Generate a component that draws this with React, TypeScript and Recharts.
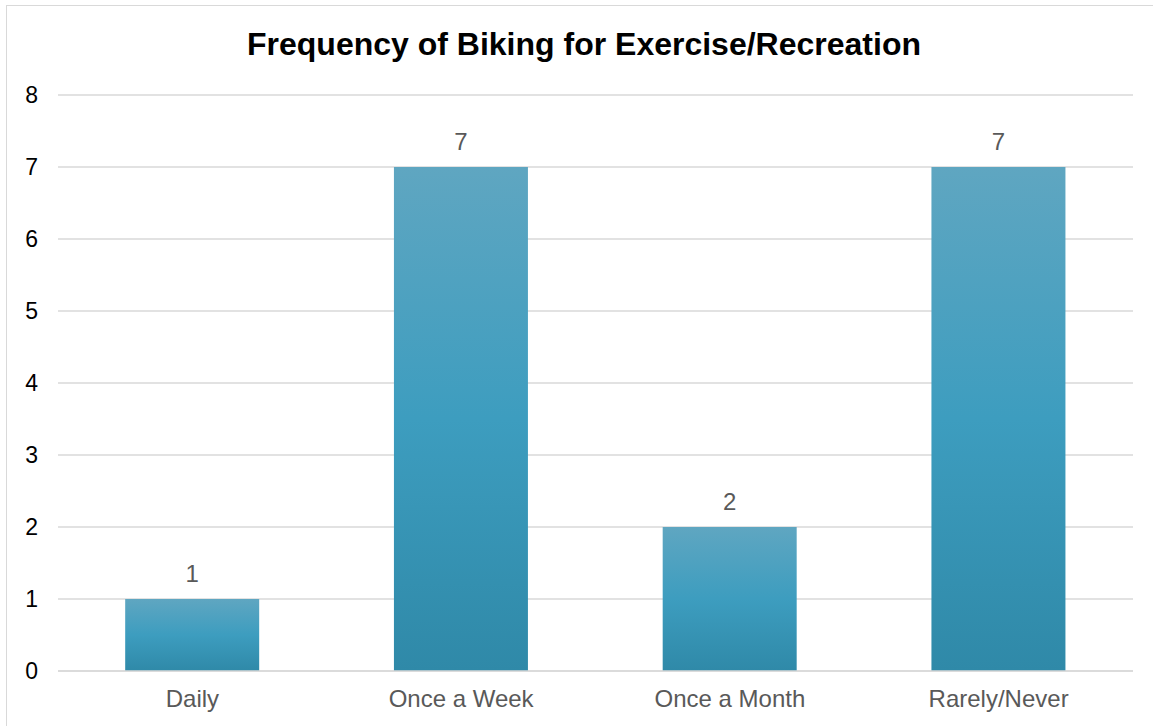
import React from "react";
import { BarChart, Bar, XAxis, YAxis, CartesianGrid, LabelList } from "recharts";

const categories = ["Daily", "Once a Week", "Once a Month", "Rarely/Never"];
const counts = [1, 7, 2, 7];
const yTicks = [0, 1, 2, 3, 4, 5, 6, 7, 8];

const data = categories.map((name, i) => ({ name, count: counts[i] }));

const FONT = "'Liberation Sans', Arial, sans-serif";

export default function App() {
  return (
    <div style={{ position: "absolute", left: 0, top: 0, width: 1153, height: 726, overflow: "hidden", background: "#fff", fontFamily: FONT }}>
      {/* chart border */}
      <div
        style={{
          position: "absolute",
          left: 6,
          top: 5,
          width: 1160,
          height: 740,
          border: "1px solid #d9d9d9",
          boxSizing: "border-box",
        }}
      />
      <div
        style={{
          position: "absolute",
          left: 6,
          width: 1156,
          top: 26,
          textAlign: "center",
          fontSize: 32,
          fontWeight: "bold",
          color: "#000",
        }}
      >
        Frequency of Biking for Exercise/Recreation
      </div>
      <div style={{ position: "absolute", left: 0, top: 0 }}>
        <BarChart
          width={1153}
          height={726}
          data={data}
          margin={{ top: 95, right: 20, bottom: 25, left: 0 }}
          barCategoryGap="25%"
        >
          <defs>
            <linearGradient id="barGrad" x1="0" y1="0" x2="0" y2="1">
              <stop offset="0%" stopColor="#5fa6c1" />
              <stop offset="50%" stopColor="#3d9dbf" />
              <stop offset="100%" stopColor="#2f89a8" />
            </linearGradient>
          </defs>
          <CartesianGrid vertical={false} stroke="#d9d9d9" strokeWidth={1.5} />
          <XAxis
            dataKey="name"
            height={30}
            axisLine={{ stroke: "#d9d9d9", strokeWidth: 1.5 }}
            tickLine={false}
            tick={{ fill: "#595959", fontSize: 24, fontFamily: FONT }}
            tickMargin={13}
          />
          <YAxis
            width={58}
            domain={[0, 8]}
            ticks={yTicks}
            axisLine={false}
            tickLine={false}
            tick={{ fill: "#000", fontSize: 23, fontFamily: FONT }}
            tickMargin={14}
          />
          <Bar dataKey="count" fill="url(#barGrad)" isAnimationActive={false}>
            <LabelList
              dataKey="count"
              position="top"
              offset={17}
              style={{ fill: "#595959", fontSize: 24, fontFamily: FONT }}
            />
          </Bar>
        </BarChart>
      </div>
    </div>
  );
}
